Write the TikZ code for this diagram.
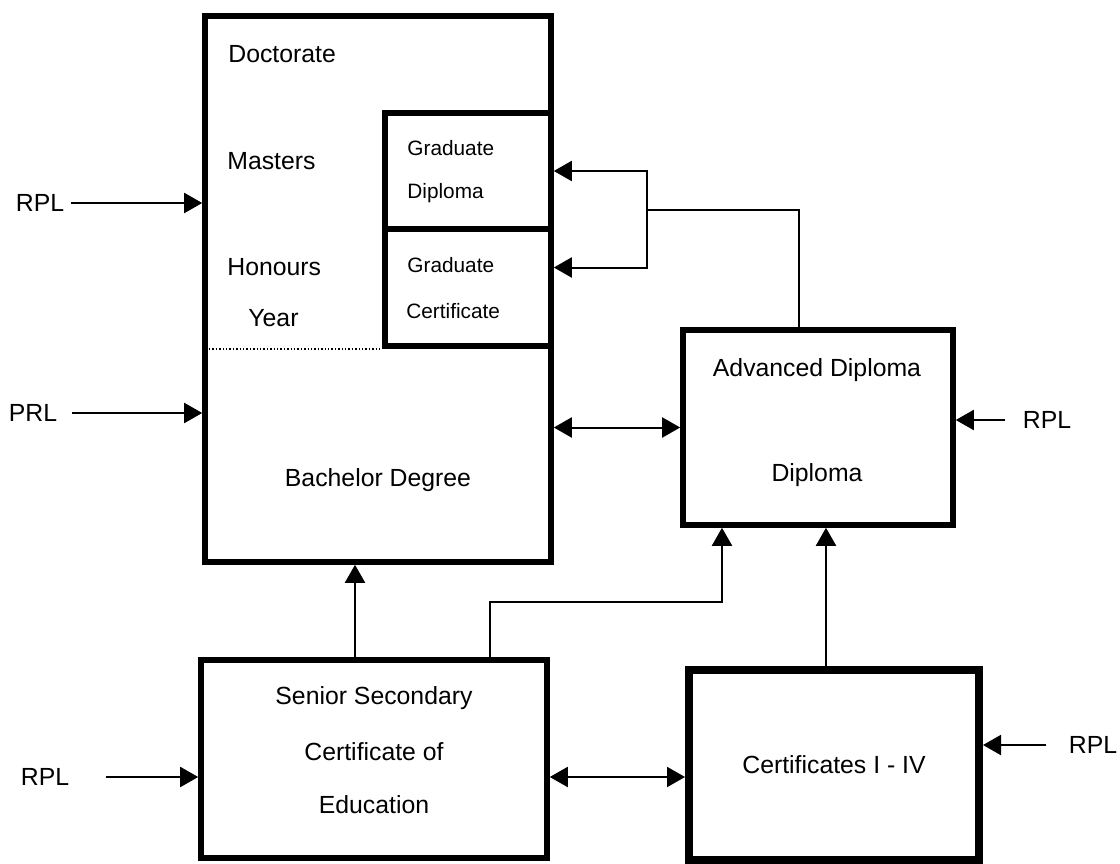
\documentclass[tikz,border=0pt]{standalone}
\usepackage{fontspec}
\setmainfont{Liberation Sans}
\usepackage{tikz}
\usetikzlibrary{arrows.meta,calc}

\tikzset{
	box/.style={draw, line width=2.8pt, inner sep=0pt},
	lbl/.style={font=\fontsize{12.4}{14}\selectfont, inner sep=0pt},
	sml/.style={font=\fontsize{10.4}{12}\selectfont, inner sep=0pt},
	arr/.style={-{Triangle[length=9pt,width=10pt]}, line width=1pt},
	dbl/.style={{Triangle[length=9pt,width=10pt]}-{Triangle[length=9pt,width=10pt]}, line width=1pt}
}

\begin{document}
\begin{tikzpicture}[x=0.5pt, y=-0.5pt]
			\useasboundingbox[fill=white] (0,0) rectangle (1120,863);
			\node[box, minimum width=173pt, minimum height=273pt] (main) at (378,289) {};
			\node[box, minimum width=83pt, minimum height=58pt] (graddip) at (468,171) {};
			\node[box, minimum width=83pt, minimum height=58.5pt] (gradcert) at (468,287.5) {};
			\node[box, minimum width=135pt, minimum height=97.5pt] (adv) at (818,427.5) {};
			\node[box, minimum width=173pt, minimum height=99pt] (ssce) at (374,759) {};
			\node[box, line width=4pt, minimum width=145pt, minimum height=95pt] (certs) at (834,765) {};
			\draw[densely dotted, line width=0.7pt] (main.west |- gradcert.south) -- (gradcert.south west);

			\node[lbl, anchor=west] (doctorate) at (228,54) {Doctorate};
			\node[lbl, anchor=west] (masters) at (227,161) {Masters};
			\node[lbl, anchor=west] (honours) at (227,267) {Honours};
			\node[lbl, anchor=west] (year) at (248,318) {Year};
			\node[lbl] (bachelor) at (378,480) {Bachelor Degree};
			\node[sml, anchor=west] (gd1) at (407,148) {Graduate};
			\node[sml, anchor=west] (gd2) at (407,193) {Diploma};
			\node[sml, anchor=west] (gc1) at (407,265) {Graduate};
			\node[sml, anchor=west] (gc2) at (406,311) {Certificate};
			\node[lbl] (advdip) at (817,370) {Advanced Diploma};
			\node[lbl] (dip) at (817,475) {Diploma};
			\node[lbl] (ssce1) at (374,698) {Senior Secondary};
			\node[lbl] (ssce2) at (374,752) {Certificate of};
			\node[lbl] (ssce3) at (374,805) {Education};
			\node[lbl] (certtext) at (834,765) {Certificates I - IV};

			\node[lbl] (rpla) at (40,203) {RPL};
			\node[lbl] (prl) at (33,413) {PRL};
			\node[lbl] (rplb) at (45,777) {RPL};
			\node[lbl] (rplc) at (1047,420) {RPL};
			\node[lbl] (rpld) at (1093,745) {RPL};

			\draw[arr, shorten <=3pt] (rpla.east) -- (rpla -| main.west);
			\draw[arr, shorten <=7pt] (prl.east) -- (prl -| main.west);
			\draw[arr, shorten <=18pt] (rplb.east) -- (rplb -| ssce.west);
			\draw[arr, shorten <=8.5pt] (rplc.west) -- (rplc -| adv.east);
			\draw[arr, shorten <=11pt] (rpld.west) -- (rpld -| certs.east);

			\draw[dbl] (adv.west -| main.east) -- (adv.west);
			\coordinate (mid) at ([yshift=-6pt]certs.west);
			\draw[dbl] (mid -| ssce.east) -- (mid);

			\coordinate (up1) at ([xshift=-9.5pt]ssce.north);
			\draw[arr] (up1) -- (up1 |- main.south);
			\coordinate (up2) at ([xshift=58pt]ssce.north);
			\coordinate (up3) at ([xshift=-48pt]adv.south);
			\draw[arr] (up2) -- ++(0,-55) -| (up3);
			\coordinate (up4) at ([xshift=4pt]adv.south);
			\draw[arr] (up4 |- certs.north) -- (up4);

			\coordinate (top) at ([xshift=-9.5pt]adv.north);
			\coordinate (fork) at (647,210);
			\draw[line width=1pt] (top) |- (fork);
			\draw[arr] (fork) |- (graddip.east);
			\coordinate (gc) at ([yshift=10pt]gradcert.east);
			\draw[arr] (fork) |- (gc);
		\end{tikzpicture}
\end{document}
